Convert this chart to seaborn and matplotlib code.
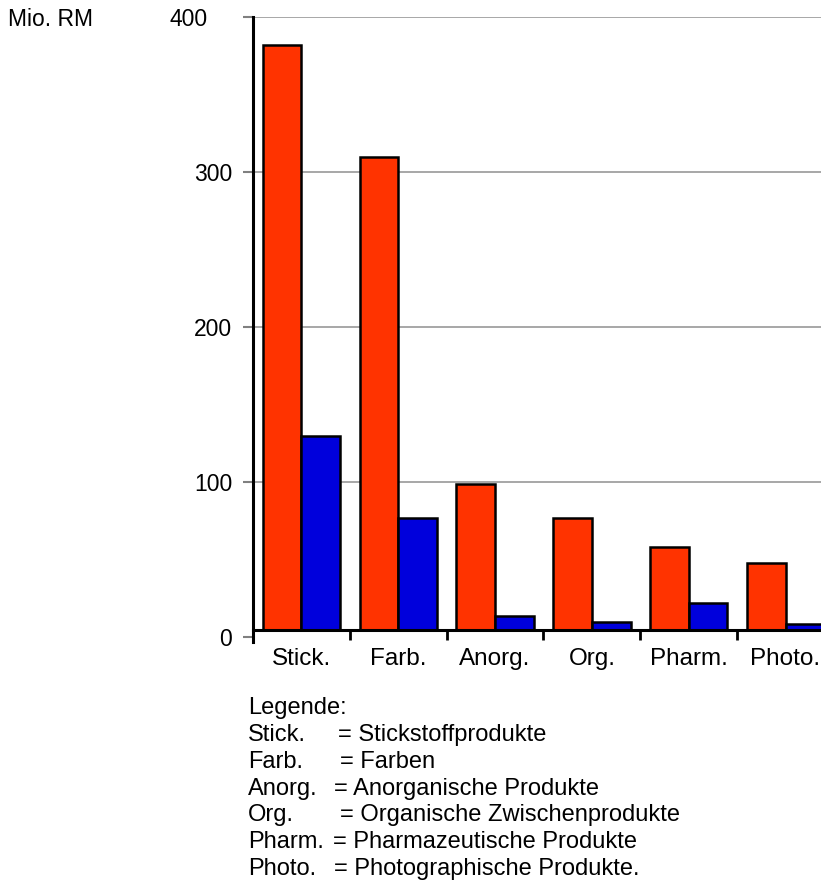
import matplotlib
matplotlib.use("Agg")
import matplotlib.pyplot as plt
import numpy as np
import pandas as pd
import seaborn as sns

# categories and values (Mio. RM)
categories = ['Stick.', 'Farb.', 'Anorg.', 'Org.', 'Pharm.', 'Photo.']
series_names = ['A', 'B']
values_red = [382, 310, 99, 77, 58, 48]
values_blue = [130, 77, 13.5, 9.5, 22, 8.5]
y_ticks = [0, 100, 200, 300, 400]

legend_abbr = ['Stick.', 'Farb.', 'Anorg.', 'Org.', 'Pharm.', 'Photo.']
legend_full = ['= Stickstoffprodukte', '= Farben', '= Anorganische Produkte',
               '= Organische Zwischenprodukte', '= Pharmazeutische Produkte',
               '= Photographische Produkte.']

red = '#ff3300'
blue = '#0000dc'

sns.set_style('white')
plt.rcParams['font.family'] = ['Liberation Sans', 'DejaVu Sans']
plt.rcParams['text.color'] = 'black'

df = pd.DataFrame({
    'cat': categories * 2,
    'series': [series_names[0]] * 6 + [series_names[1]] * 6,
    'value': values_red + values_blue,
})

W, H = 821, 894
fig = plt.figure(figsize=(W / 100, H / 100), dpi=100)
ax_left, ax_top, ax_bottom = 253, 17, 637
ax = fig.add_axes([ax_left / W, 1 - ax_bottom / H, 1 - ax_left / W, (ax_bottom - ax_top) / H])

sns.barplot(data=df, x='cat', y='value', hue='series', order=categories,
            palette=[red, blue], saturation=1, edgecolor='black',
            linewidth=1.8, legend=False, ax=ax)

# bars stand on the drawn x-axis, a little above the 0 tick
base = 4.4
for bar in ax.patches:
    top = bar.get_height()
    bar.set_y(base)
    bar.set_height(top - base)

ax.set_ylim(0, 400)
ax.set_xlim(-0.5, 5.366)
ax.set_xlabel('')
ax.set_ylabel('')

for s in ['top', 'right']:
    ax.spines[s].set_visible(False)
ax.spines['bottom'].set_position(('data', base))
ax.spines['bottom'].set_linewidth(2.2)
ax.spines['bottom'].set_color('black')
ax.spines['left'].set_linewidth(2.2)
ax.spines['left'].set_color('black')
ax.spines['left'].set_bounds(-3, 400)

ax.set_yticks(y_ticks)
ax.set_yticklabels([str(v) for v in y_ticks])
ax.tick_params(axis='y', length=7, width=1.5, color='#808080', labelsize=16.5, pad=8,
               direction='out', left=True, labelcolor='black')
ax.yaxis.get_major_ticks()[-1].set_pad(26)

ax.set_xticks(range(len(categories)))
ax.set_xticklabels(categories)
ax.set_xticks(np.arange(-0.5, 5.0, 1.0), minor=True)
ax.tick_params(axis='x', which='major', length=0, labelsize=17.5, pad=13, labelcolor='black')
ax.tick_params(axis='x', which='minor', length=7, width=2, color='black',
               direction='out', bottom=True)

ax.set_axisbelow(True)
ax.grid(axis='y', color='#a0a0a0', linewidth=1.3)
ax.grid(axis='x', visible=False)
ax.yaxis.get_major_ticks()[0].gridline.set_visible(False)

fig.text(8 / W, 1 - 20 / H, 'Mio. RM', fontsize=16.5, ha='left', va='center')

# legend block
fig.text(248 / W, 1 - 708 / H, 'Legende:', fontsize=17, ha='left', va='center')
eq_x = [338, 340, 334, 340, 333, 334]
for i, (a, f) in enumerate(zip(legend_abbr, legend_full)):
    y = 735 + i * 26.8
    fig.text(248 / W, 1 - y / H, a, fontsize=17, ha='left', va='center')
    fig.text(eq_x[i] / W, 1 - y / H, f, fontsize=17, ha='left', va='center')

fig.savefig('out.png', dpi=100)
